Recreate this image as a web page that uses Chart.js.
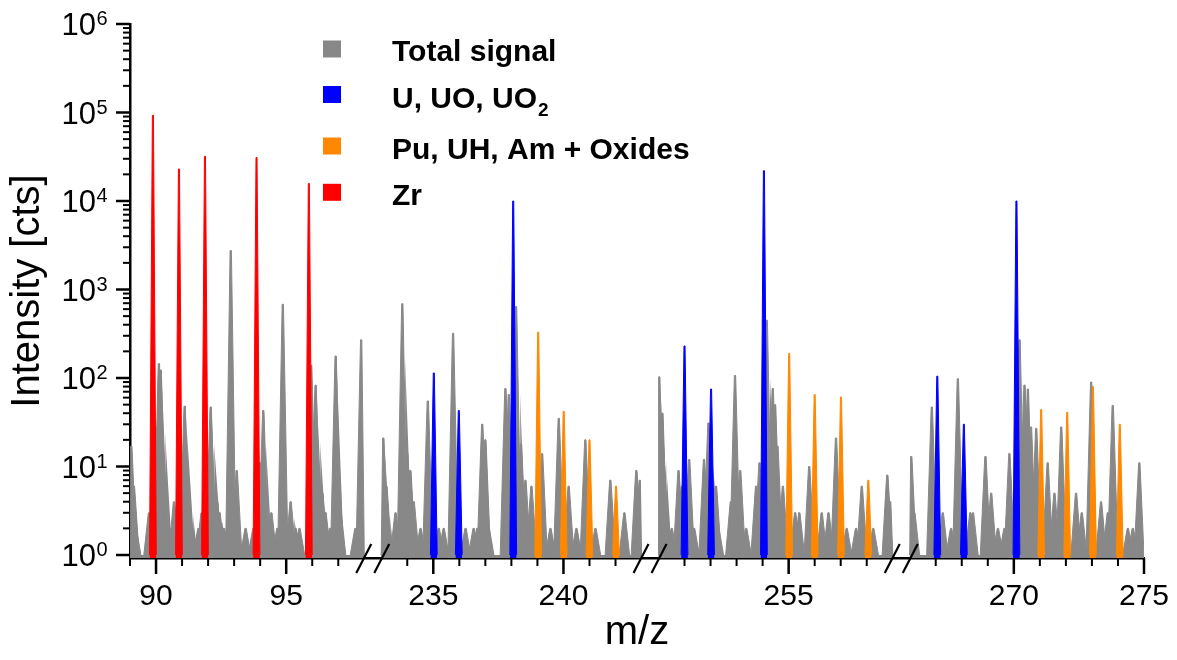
<!DOCTYPE html>
<html>
<head>
<meta charset="utf-8">
<script src="https://cdn.jsdelivr.net/npm/chart.js@4.4.1/dist/chart.umd.min.js"></script>
<style>
  body { margin: 0; background: #fff; }
  #contenedor { width: 1177px; height: 660px; }
</style>
</head>
<body>
<div id="contenedor"><canvas id="espectro"></canvas></div>
<script>
// tramos del eje x (m/z), con cortes entre ellos
const tramoInicio = [89, 233, 250, 266];
const tramoFin = [98, 243, 259, 275];
const etiquetasX = [90, 95, 235, 240, 255, 270, 275];
const decadasY = [0, 1, 2, 3, 4, 5, 6];

// señal total (gris)
const totalMz = [
  89.05, 89.15, 89.22, 89.73, 89.99, 90.11, 90.18, 90.24, 90.31, 90.43, 90.56, 90.69,
  90.97, 91.1, 91.23, 91.3, 91.4, 91.63, 91.75, 91.99, 92.1, 92.17, 92.35, 92.44,
  92.61, 92.74, 92.87, 93.1, 93.44, 93.74, 93.99, 94.12, 94.27, 94.43, 94.66, 94.87,
  95.17, 95.36, 95.51, 95.96, 96.13, 96.26, 96.39, 96.51, 96.68, 96.9, 97.02, 97.09,
  97.66, 97.88,
  233.08, 233.2, 233.29, 233.55, 233.81, 234.0, 234.12, 234.25, 234.51, 234.79, 235.21, 235.4,
  235.76, 236.24, 236.55, 236.69, 236.88, 237.0, 237.13, 237.77, 237.9, 238.18, 238.37, 238.54,
  238.77, 239.18, 239.5, 239.82, 240.2, 240.5, 240.84, 241.23, 241.8, 242.34, 242.8, 242.93,
  250.03, 250.15, 250.22, 250.32, 250.51, 250.77, 250.9, 251.18, 251.37, 251.75, 251.92, 252.21,
  252.3, 252.78, 252.94, 253.14, 253.37, 253.75, 253.88, 254.16, 254.39, 254.48, 254.57, 254.78,
  255.25, 255.41, 255.79, 256.27, 256.53, 256.82, 257.23, 257.59, 257.81, 258.25, 258.79, 258.9,
  266.06, 266.18, 266.85, 267.27, 267.59, 267.85, 268.33, 268.43, 268.91, 269.13, 269.39, 269.64,
  269.83, 270.22, 270.41, 270.54, 270.66, 270.86, 271.3, 271.56, 271.82, 272.39, 272.61, 272.97,
  273.35, 273.61, 273.8, 274.38, 274.57, 274.82
];
const totalCts = [
  17, 6, 2, 3, 28, 145, 123, 18, 3, 2, 2, 4,
  13, 48, 8, 3, 2, 2, 3, 14, 47, 5, 4, 3,
  2, 2, 2750, 9, 2, 2, 11, 43, 2, 3, 2, 680,
  4, 2, 2, 140, 83, 8, 5, 3, 2, 177, 5, 3,
  2, 270,
  21, 6, 2, 3, 690, 14, 9, 4, 2, 55, 2, 2,
  320, 2, 2, 2, 30, 20, 2, 76, 65, 640, 18, 7,
  6, 14, 2, 35, 6, 2, 20, 2, 7, 3, 9, 7,
  103, 40, 10, 2, 2, 9, 6, 12, 2, 12, 31, 6,
  2, 4, 107, 9, 2, 6, 11, 450, 76, 50, 17, 6,
  3, 3, 10, 3, 3, 21, 2, 2, 6, 2, 8, 4,
  13, 3, 47, 3, 2, 98, 3, 3, 13, 5, 2, 2,
  14, 270, 83, 75, 28, 27, 11, 5, 28, 5, 3, 90,
  4, 3, 49, 2, 2, 11
];

// U, UO, UO2 (azul)
const uMz = [235.02, 235.98, 238.07, 251.0, 252.02, 254.05, 267.06, 268.08, 270.1];
const uCts = [114, 43, 10000, 230, 75, 22000, 105, 30, 10000];

// Pu, UH, Am + óxidos (naranja)
const puMz = [239.03, 240.01, 241.0, 242.02, 255.02, 256.0, 257.01, 258.06, 271.05, 272.05, 273.04, 274.07];
const puCts = [330, 42, 20, 6, 190, 65, 61, 7, 44, 41, 80, 30];

// Zr (rojo)
const zrMz = [89.88, 90.88, 91.88, 93.86, 95.87];
const zrCts = [93000, 23000, 32000, 31000, 15800];

const HUECO = 0.65;
const FUENTE = '"Liberation Sans", Arial, sans-serif';
const GRIS = '#888888', AZUL = '#0000ff', NARANJA = '#ff8800', ROJO = '#ff0000';

// m/z -> posición continua del eje (quitando los huecos)
function aVirtual(mz) {
  let desplaz = 0;
  for (let i = 0; i < tramoInicio.length; i++) {
    if (mz <= tramoFin[i] + 1) return desplaz + (mz - tramoInicio[i]);
    desplaz += tramoFin[i] - tramoInicio[i] + HUECO;
  }
  return desplaz;
}

function tramoDe(mz) {
  for (let i = 0; i < tramoInicio.length; i++) {
    if (mz <= tramoFin[i] + 1) return i;
  }
  return tramoInicio.length - 1;
}

// cada pico como un trapecio estrecho (base y punta), separados con null
function picos(mzs, cts, base, punta) {
  const pts = [];
  mzs.forEach((m, i) => {
    const t = tramoDe(m);
    const lim = v => Math.min(Math.max(v, tramoInicio[t]), tramoFin[t]);
    pts.push(
      { x: aVirtual(lim(m - base)), y: 1 },
      { x: aVirtual(lim(m - punta)), y: cts[i] },
      { x: aVirtual(lim(m + punta)), y: cts[i] },
      { x: aVirtual(lim(m + base)), y: 1 },
      { x: aVirtual(lim(m + base)), y: null }
    );
  });
  return pts;
}

function lineaBase() {
  const pts = [];
  tramoInicio.forEach((ini, i) => {
    pts.push({ x: aVirtual(ini), y: 1 }, { x: aVirtual(tramoFin[i]), y: 1 }, { x: aVirtual(tramoFin[i]), y: null });
  });
  return pts;
}

function ticksX() {
  const t = [];
  tramoInicio.forEach((ini, i) => {
    for (let m = ini; m <= tramoFin[i]; m++) {
      const borde = (m === ini && i > 0) || (m === tramoFin[i] && i < tramoInicio.length - 1);
      if (!borde) t.push({ value: aVirtual(m), major: etiquetasX.includes(m), mz: m });
    }
  });
  return t;
}

function ticksY() {
  const t = [];
  decadasY.forEach(d => {
    const tope = d === 6 ? 1 : 9;
    for (let k = 1; k <= tope; k++) t.push({ value: k * Math.pow(10, d), major: k === 1, exp: d });
  });
  return t;
}

// marcas de los ejes, etiquetas 10^n y cortes
const pluginEjes = {
  id: 'ejes',
  afterDraw(chart) {
    const ctx = chart.ctx;
    const ejeX = chart.scales.x, ejeY = chart.scales.y;
    const area = chart.chartArea;
    ctx.save();
    ctx.strokeStyle = '#000';
    ejeX.ticks.forEach(t => {
      const px = ejeX.getPixelForValue(t.value);
      ctx.lineWidth = t.major ? 2.5 : 2;
      ctx.beginPath();
      ctx.moveTo(px, area.bottom);
      ctx.lineTo(px, area.bottom + (t.major ? 16 : 8));
      ctx.stroke();
    });
    ejeY.ticks.forEach(t => {
      const py = ejeY.getPixelForValue(t.value);
      ctx.lineWidth = t.major ? 2.5 : 2;
      ctx.beginPath();
      ctx.moveTo(area.left, py);
      ctx.lineTo(area.left - (t.major ? 14 : 7), py);
      ctx.stroke();
      if (t.major) {
        ctx.fillStyle = '#000';
        ctx.textBaseline = 'alphabetic';
        ctx.font = '31px ' + FUENTE;
        ctx.textAlign = 'right';
        ctx.fillText('10', 96, py + 11);
        ctx.font = '20px ' + FUENTE;
        ctx.textAlign = 'left';
        ctx.fillText(String(t.exp), 96.5, py + 1);
      }
    });
    // cortes del eje x
    ctx.lineWidth = 2.2;
    for (let i = 0; i < tramoFin.length - 1; i++) {
      const c = ejeX.getPixelForValue(aVirtual(tramoFin[i]) + HUECO / 2);
      [c - 9, c + 9].forEach(cx => {
        ctx.beginPath();
        ctx.moveTo(cx - 7.5, area.bottom + 15);
        ctx.lineTo(cx + 7.5, area.bottom - 14);
        ctx.stroke();
      });
    }
    ctx.restore();
  }
};

// leyenda dentro del área
const pluginLeyenda = {
  id: 'leyenda',
  afterDraw(chart) {
    const ctx = chart.ctx;
    const cuadros = [49, 94.5, 146, 192.3];
    const bases = [61, 108, 159, 205];
    ctx.save();
    chart.data.datasets.filter(d => d.label).forEach((d, i) => {
      ctx.fillStyle = d.backgroundColor;
      ctx.fillRect(323, cuadros[i] - 8.5, 18, 17);
      ctx.fillStyle = '#000';
      ctx.textAlign = 'left';
      ctx.textBaseline = 'alphabetic';
      ctx.font = 'bold 30px ' + FUENTE;
      const partes = d.label.split('₂');
      ctx.fillText(partes[0], 392, bases[i]);
      if (partes.length > 1) {
        const w = ctx.measureText(partes[0]).width;
        ctx.font = 'bold 19px ' + FUENTE;
        ctx.fillText('2', 392 + w + 1, bases[i] + 8);
      }
    });
    ctx.restore();
  }
};

const grafica = new Chart(document.getElementById('espectro'), {
  type: 'line',
  data: {
    datasets: [
      { label: 'Total signal', data: picos(totalMz, totalCts, 0.2, 0.025), borderColor: GRIS, backgroundColor: GRIS, fill: 'start', borderWidth: 1, order: 5 },
      { label: 'U, UO, UO₂', data: picos(uMz, uCts, 0.13, 0.02), borderColor: AZUL, backgroundColor: AZUL, fill: 'start', borderWidth: 1, order: 1 },
      { label: 'Pu, UH, Am + Oxides', data: picos(puMz, puCts, 0.13, 0.02), borderColor: NARANJA, backgroundColor: NARANJA, fill: 'start', borderWidth: 1, order: 2 },
      { label: 'Zr', data: picos(zrMz, zrCts, 0.13, 0.02), borderColor: ROJO, backgroundColor: ROJO, fill: 'start', borderWidth: 1, order: 3 },
      { label: '', data: lineaBase(), borderColor: GRIS, backgroundColor: GRIS, fill: 'start', borderWidth: 0, order: 6 }
    ]
  },
  options: {
    responsive: true,
    maintainAspectRatio: false,
    animation: false,
    devicePixelRatio: 1,
    spanGaps: false,
    layout: { padding: { top: 24, right: 33, left: 0, bottom: 0 } },
    elements: { point: { radius: 0 }, line: { tension: 0 } },
    plugins: { legend: { display: false }, tooltip: { enabled: false } },
    scales: {
      x: {
        type: 'linear',
        min: 0,
        max: aVirtual(275),
        afterFit: s => { s.height = 102; s.paddingLeft = 0; s.paddingRight = 0; },
        afterBuildTicks: s => { s.ticks = ticksX(); },
        grid: { display: false, drawTicks: false },
        border: { display: true, color: '#000', width: 2.5 },
        ticks: {
          autoSkip: false, maxRotation: 0, minRotation: 0, padding: 21,
          color: '#000', font: { family: FUENTE, size: 30 },
          callback: (v, i, ticks) => ticks[i].major ? String(ticks[i].mz) : ''
        },
        title: { display: true, text: 'm/z', color: '#000', font: { family: FUENTE, size: 40 }, padding: { top: 0, bottom: 3 } }
      },
      y: {
        type: 'logarithmic',
        min: 0.925,
        max: 1e6,
        afterFit: s => { s.width = 130; },
        afterBuildTicks: s => { s.ticks = ticksY(); },
        grid: { display: false, drawTicks: false },
        border: { display: true, color: '#000', width: 2.5 },
        ticks: { display: false },
        title: { display: true, text: 'Intensity [cts]', color: '#000', font: { family: FUENTE, size: 40 }, padding: { top: 4, bottom: 0 } }
      }
    }
  },
  plugins: [pluginEjes, pluginLeyenda]
});
</script>
</body>
</html>
